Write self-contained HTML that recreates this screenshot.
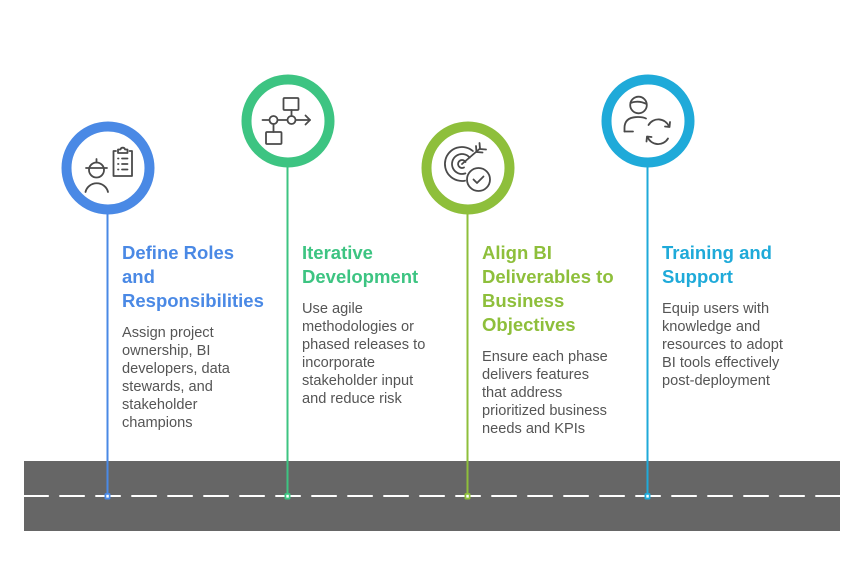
<!DOCTYPE html>
<html>
<head>
<meta charset="utf-8">
<style>
  html, body { margin: 0; padding: 0; background: #ffffff; }
  body { width: 864px; height: 583px; position: relative; overflow: hidden; font-family: "Liberation Sans", sans-serif; }
  svg { position: absolute; left: 0; top: 0; }
  .col { position: absolute; top: 241px; white-space: nowrap; }
  .t { font-weight: bold; font-size: 18.5px; line-height: 24px; }
  .b { margin-top: 11px; font-size: 14.6px; line-height: 18px; color: #555555; }
</style>
</head>
<body>
<svg width="864" height="583" viewBox="0 0 864 583" xmlns="http://www.w3.org/2000/svg">
  <!-- road -->
  <rect x="24" y="461" width="816" height="70" fill="#666666"/>
  <line x1="24" y1="496" x2="840" y2="496" stroke="#ffffff" stroke-width="2" stroke-dasharray="25.5 10.5" stroke-dashoffset="0.7"/>

  <!-- connector lines -->
  <line x1="107.5" y1="214" x2="107.5" y2="496" stroke="#4A89E5" stroke-width="2"/>
  <line x1="287.5" y1="167" x2="287.5" y2="496" stroke="#3DC482" stroke-width="2"/>
  <line x1="467.5" y1="214" x2="467.5" y2="496" stroke="#8EBF3B" stroke-width="2"/>
  <line x1="647.5" y1="167" x2="647.5" y2="496" stroke="#1FAAD9" stroke-width="2"/>

  <!-- dots -->
  <rect x="104.5" y="493" width="6" height="6.5" rx="1.5" fill="#4A89E5"/>
  <rect x="106.3" y="494.8" width="2.5" height="2.8" fill="#ffffff"/>
  <rect x="284.5" y="493" width="6" height="6.5" rx="1.5" fill="#3DC482"/>
  <rect x="286.3" y="494.8" width="2.5" height="2.8" fill="#ffffff"/>
  <rect x="464.5" y="493" width="6" height="6.5" rx="1.5" fill="#8EBF3B"/>
  <rect x="466.3" y="494.8" width="2.5" height="2.8" fill="#ffffff"/>
  <rect x="644.5" y="493" width="6" height="6.5" rx="1.5" fill="#1FAAD9"/>
  <rect x="646.3" y="494.8" width="2.5" height="2.8" fill="#ffffff"/>

  <!-- circles -->
  <circle cx="108" cy="168" r="41.5" fill="#ffffff" stroke="#4A89E5" stroke-width="10"/>
  <circle cx="288" cy="121" r="41.5" fill="#ffffff" stroke="#3DC482" stroke-width="10"/>
  <circle cx="468" cy="168" r="41.5" fill="#ffffff" stroke="#8EBF3B" stroke-width="10"/>
  <circle cx="648" cy="121" r="41.5" fill="#ffffff" stroke="#1FAAD9" stroke-width="10"/>

  <g fill="none" stroke="#4a4a4a" stroke-width="1.8" stroke-linecap="round" stroke-linejoin="round">
    <!-- icon 1: worker + clipboard -->
    <circle cx="96.5" cy="170" r="7.5"/>
    <line x1="86" y1="168" x2="107" y2="168"/>
    <line x1="96.5" y1="159" x2="96.5" y2="162.5"/>
    <path d="M85.5 192 A11.5 11 0 0 1 108 192"/>
    <path d="M116 151 H113.5 V176 H132 V151 H129.5"/>
    <path d="M118 153 V149.5 H120.5 A2.3 2.3 0 0 1 125 149.5 H127.5 V153 Z"/>
    <line x1="118" y1="158.5" x2="118.5" y2="158.5"/>
    <line x1="122" y1="158.5" x2="127.5" y2="158.5"/>
    <line x1="118" y1="164" x2="118.5" y2="164"/>
    <line x1="122" y1="164" x2="127.5" y2="164"/>
    <line x1="118" y1="169.5" x2="118.5" y2="169.5"/>
    <line x1="122" y1="169.5" x2="127.5" y2="169.5"/>

    <!-- icon 2: flow -->
    <rect x="283.5" y="98" width="15" height="12" rx="1"/>
    <rect x="266" y="132" width="15.5" height="12" rx="1"/>
    <line x1="262.5" y1="120" x2="269.5" y2="120"/>
    <circle cx="273.5" cy="120" r="4"/>
    <line x1="277.5" y1="120" x2="287.5" y2="120"/>
    <circle cx="291.5" cy="120" r="4"/>
    <line x1="295.5" y1="120" x2="310" y2="120"/>
    <path d="M305.5 115.5 L310 120 L305.5 124.5"/>
    <line x1="291.5" y1="110" x2="291.5" y2="116"/>
    <line x1="273.5" y1="124" x2="273.5" y2="132"/>

    <!-- icon 3: target + check -->
    <path d="M465 180.7 A17 17 0 1 1 472.9 151"/>
    <path d="M465.4 173.4 A10 10 0 1 1 469.7 157.6"/>
    <path d="M464 167.5 A4 4 0 1 1 465.5 162"/>
    <line x1="462" y1="164" x2="480" y2="148.5"/>
    <path d="M476 146 L476.5 152 L482.5 152.5"/>
    <path d="M479.5 143 L480 149 L486 149.5"/>
    <circle cx="478.5" cy="179.5" r="11.5" fill="#ffffff"/>
    <path d="M473.5 179.5 L477 183 L483.5 176.5"/>

    <!-- icon 4: person + refresh -->
    <circle cx="638.5" cy="105" r="8.3"/>
    <path d="M630.5 103 Q638.5 100 646.5 104"/>
    <path d="M624.5 131.5 V128 Q624.5 117 638 117 Q643 117 646 118.5"/>
    <line x1="624.5" y1="131.5" x2="633" y2="131.5"/>
    <path d="M648.5 125 A11.5 11.5 0 0 1 669 126.5"/>
    <path d="M665 126.5 L669.5 127 L670 122"/>
    <path d="M668 138.5 A11.5 11.5 0 0 1 647.5 137"/>
    <path d="M651.5 137 L647 136.5 L646.5 141.5"/>
  </g>
</svg>

<div class="col" style="left:122px;">
  <div class="t" style="color:#4A89E5;">Define Roles<br>and<br>Responsibilities</div>
  <div class="b">Assign project<br>ownership, BI<br>developers, data<br>stewards, and<br>stakeholder<br>champions</div>
</div>
<div class="col" style="left:302px;">
  <div class="t" style="color:#3DC482;">Iterative<br>Development</div>
  <div class="b">Use agile<br>methodologies or<br>phased releases to<br>incorporate<br>stakeholder input<br>and reduce risk</div>
</div>
<div class="col" style="left:482px;">
  <div class="t" style="color:#8EBF3B;">Align BI<br>Deliverables to<br>Business<br>Objectives</div>
  <div class="b">Ensure each phase<br>delivers features<br>that address<br>prioritized business<br>needs and KPIs</div>
</div>
<div class="col" style="left:662px;">
  <div class="t" style="color:#1FAAD9;">Training and<br>Support</div>
  <div class="b">Equip users with<br>knowledge and<br>resources to adopt<br>BI tools effectively<br>post-deployment</div>
</div>
</body>
</html>
